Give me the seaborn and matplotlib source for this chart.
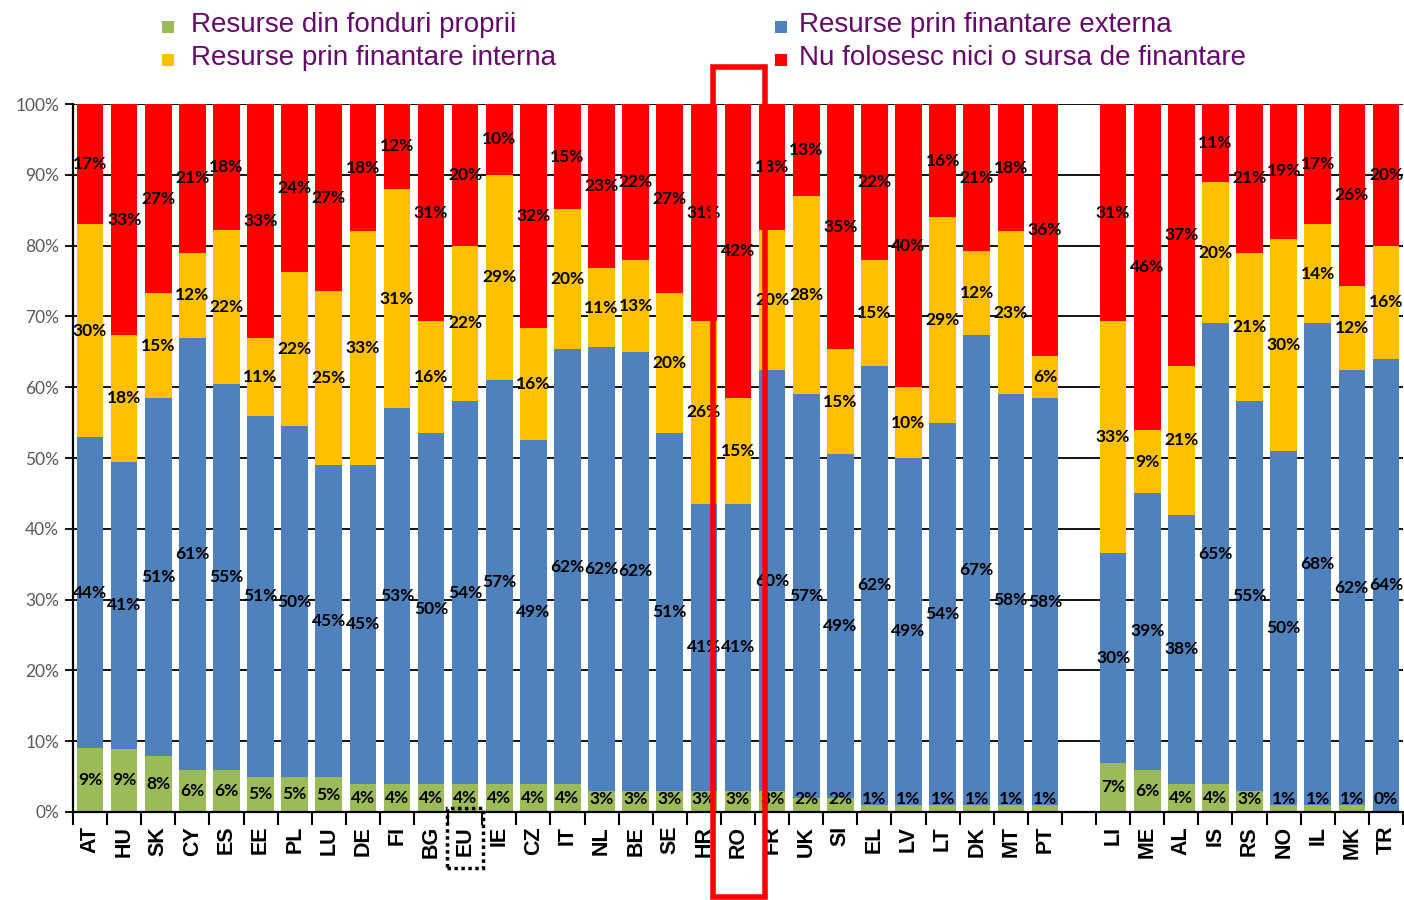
import numpy as np
import pandas as pd
import matplotlib
matplotlib.use("Agg")
import matplotlib.pyplot as plt
import seaborn as sns
from matplotlib.patches import Rectangle
import matplotlib.transforms as mtransforms

# ---------------- data ----------------
countries = ["AT", "HU", "SK", "CY", "ES", "EE", "PL", "LU", "DE", "FI", "BG", "EU", "IE",
             "CZ", "IT", "NL", "BE", "SE", "HR", "RO", "FR", "UK", "SI", "EL", "LV", "LT",
             "DK", "MT", "PT",
             "LI", "ME", "AL", "IS", "RS", "NO", "IL", "MK", "TR"]
own = [9, 9, 8, 6, 6, 5, 5, 5, 4, 4, 4, 4, 4, 4, 4, 3, 3, 3, 3, 3, 3, 2, 2, 1, 1, 1, 1, 1, 1,
       7, 6, 4, 4, 3, 1, 1, 1, 0]
external = [44, 41, 51, 61, 55, 51, 50, 45, 45, 53, 50, 54, 57, 49, 62, 62, 62, 51, 41, 41, 60,
            57, 49, 62, 49, 54, 67, 58, 58,
            30, 39, 38, 65, 55, 50, 68, 62, 64]
internal = [30, 18, 15, 12, 22, 11, 22, 25, 33, 31, 16, 22, 29, 16, 20, 11, 13, 20, 26, 15, 20,
            28, 15, 15, 10, 29, 12, 23, 6,
            33, 9, 21, 20, 21, 30, 14, 12, 16]
no_funding = [17, 33, 27, 21, 18, 33, 24, 27, 18, 12, 31, 20, 10, 32, 15, 23, 22, 27, 31, 42, 18,
              13, 35, 22, 40, 16, 21, 18, 36,
              31, 46, 37, 11, 21, 19, 17, 26, 20]
series_names = ["Resurse din fonduri proprii", "Resurse prin finantare interna",
                "Resurse prin finantare externa", "Nu folosesc nici o sursa de finantare"]
n_eu = 29
GAP = " "
order = countries[:n_eu] + [GAP] + countries[n_eu:]

GREEN, BLUE, YELLOW, RED = "#9BBB59", "#4F81BD", "#FFC000", "#FF0000"
PURPLE = "#650A6B"

df = pd.DataFrame({"country": countries, "own": own, "external": external,
                   "internal": internal, "none": no_funding})
tot = df[["own", "external", "internal", "none"]].sum(axis=1)
for c in ["own", "external", "internal", "none"]:
    df[c + "_n"] = df[c] * 100.0 / tot
df["c1"] = df["own_n"]
df["c2"] = df["c1"] + df["external_n"]
df["c3"] = df["c2"] + df["internal_n"]
df["c4"] = df["c3"] + df["none_n"]

# ---------------- figure ----------------
sns.set_theme(style="white")
plt.rcParams["font.family"] = ["Lato", "DejaVu Sans"]

W, H = 1404, 900
fig = plt.figure(figsize=(W / 100, H / 100), dpi=100)
x0, x1, ytop, ybot = 73, 1403, 104, 812
ax = fig.add_axes([x0 / W, 1 - ybot / H, (x1 - x0) / W, (ybot - ytop) / H])

for col, color in [("c4", RED), ("c3", YELLOW), ("c2", BLUE), ("c1", GREEN)]:
    sns.barplot(data=df, x="country", y=col, order=order, color=color, saturation=1,
                width=0.78, errorbar=None, linewidth=0, ax=ax)

ax.set_xlim(-0.5, len(order) - 0.5)
ax.set_ylim(0, 100)
ax.set_xlabel("")
ax.set_ylabel("")
ax.set_axisbelow(True)
ax.yaxis.grid(True, color="black", linewidth=1.3)
ax.xaxis.grid(False)

ax.set_yticks(np.arange(0, 101, 10))
ax.set_yticklabels([f"{t}%" for t in range(0, 101, 10)])
ax.tick_params(axis="y", which="major", direction="out", length=6, width=1.3,
               color="black", labelcolor="#595959", labelsize=12.5, pad=4, left=True)
ax.set_xticks(np.arange(len(order)))
ax.set_xticklabels(order, rotation=90, family="Liberation Sans", fontweight="bold")
ax.tick_params(axis="x", which="major", length=0, labelsize=15.5, pad=10, labelcolor="black")
ax.set_xticks(np.arange(-0.5, len(order), 1), minor=True)
ax.tick_params(axis="x", which="minor", direction="out", length=9, width=1.5,
               color="black", bottom=True)
for s in ["top", "right"]:
    ax.spines[s].set_visible(False)
for s in ["left", "bottom"]:
    ax.spines[s].set_color("black")
    ax.spines[s].set_linewidth(1.6)

# ---------------- data labels ----------------
for i, row in df.iterrows():
    xp = order.index(row["country"])
    segs = [(row["own"], max(row["c1"] / 2, 1.8)),
            (row["external"], (row["c1"] + row["c2"]) / 2),
            (row["internal"], (row["c2"] + row["c3"]) / 2),
            (row["none"], (row["c3"] + row["c4"]) / 2)]
    for v, yp in segs:
        ax.text(xp, yp, f"{v}%", ha="center", va="center", fontsize=12.5,
                fontweight="bold", color="black", zorder=5)

# ---------------- highlight boxes ----------------
trans = mtransforms.blended_transform_factory(ax.transData, ax.transAxes)
ro = order.index("RO")
ax.add_patch(Rectangle((ro - 0.73, -0.12), 1.52, 1.172, transform=trans, fill=False,
                       edgecolor="#FF0000", linewidth=4, clip_on=False, zorder=6))
eu = order.index("EU")
ax.add_patch(Rectangle((eu - 0.53, -0.079), 1.05, 0.085, transform=trans, fill=False,
                       edgecolor="black", linewidth=2.5, linestyle=(0, (1, 1)),
                       clip_on=False, zorder=6))

# ---------------- legend ----------------
legend_items = [(series_names[0], GREEN, 162, 191, 25),
                (series_names[1], YELLOW, 162, 191, 58),
                (series_names[2], BLUE, 775, 799, 25),
                (series_names[3], RED, 775, 799, 58)]
for name, color, mx, tx, ty in legend_items:
    fig.patches.append(Rectangle((mx / W, 1 - (ty + 8) / H), 12 / W, 12 / H,
                                 transform=fig.transFigure, facecolor=color,
                                 edgecolor="none"))
    fig.text(tx / W, 1 - ty / H, name, ha="left", va="center", fontsize=20,
             color=PURPLE, family="Liberation Sans")

fig.savefig("out.png", dpi=100)
